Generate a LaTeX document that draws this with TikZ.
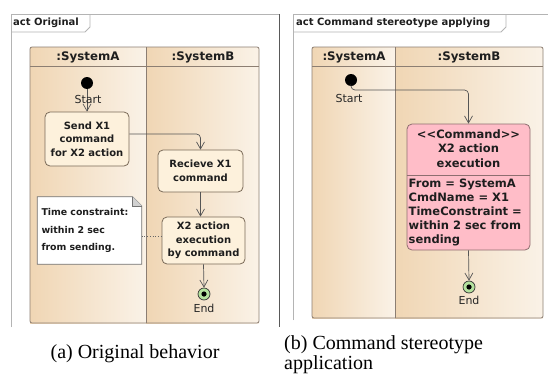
\documentclass[tikz,border=0pt]{standalone}
\usepackage{fontspec}
\newfontfamily\uml{DejaVu Sans}
\newfontfamily\capfont{Liberation Serif}
\usetikzlibrary{arrows.meta,calc}
\definecolor{laneL}{HTML}{F0D6B4}
\definecolor{laneR}{HTML}{FAF2E7}
\definecolor{laneBorder}{HTML}{8C7E72}
\definecolor{actFill}{HTML}{FDF1DC}
\definecolor{actBorder}{HTML}{7A6A58}
\definecolor{cmdFill}{HTML}{FFBDC8}
\definecolor{cmdBorder}{HTML}{8E6E70}
\definecolor{endFill}{HTML}{B4E29E}
\definecolor{arrowCol}{HTML}{555555}
\definecolor{frameCol}{HTML}{B4B4B4}
\definecolor{txt}{HTML}{1E1E1E}
\tikzset{
  lanebox/.style={draw=laneBorder, line width=0.8pt},
  hdr/.style={font=\uml\bfseries\fontsize{11.8}{13}\selectfont, text=txt, inner sep=0},
  tabtxt/.style={font=\uml\bfseries\fontsize{10}{12}\selectfont, text=txt, inner sep=0, anchor=west},
  action/.style={draw=actBorder, fill=actFill, rounded corners=5pt, line width=0.8pt, align=center,
     font=\uml\bfseries\fontsize{10}{13.5}\selectfont, text=txt, inner sep=1pt},
  initnode/.style={circle, fill=black, minimum size=12pt, inner sep=0},
  endnode/.style={circle, draw=black!80, fill=endFill, line width=0.7pt, minimum size=12pt, inner sep=0},
  lbl/.style={font=\uml\fontsize{11}{13}\selectfont, text=black!85, inner sep=0},
  flow/.style={draw=arrowCol, line width=0.7pt, -{Straight Barb[length=7pt,width=8pt]}},
  cmdbox/.style={draw=cmdBorder, fill=cmdFill, rounded corners=5pt, line width=0.8pt, inner sep=0},
  cmdtxt/.style={font=\uml\bfseries\fontsize{11.5}{14.5}\selectfont, text=txt, inner sep=0},
  capt/.style={font=\capfont\fontsize{20}{22}\selectfont, text=black, inner sep=0}
}
\begin{document}
\begin{tikzpicture}[x=1pt,y=-1pt]
\useasboundingbox (0,0) rectangle (548,380);
\fill[white] (0,0) rectangle (548,380);

% ---------- left frame ----------
\draw[frameCol, line width=0.8pt] (11,327) -- (11,14) -- (279,14);
\draw[black!65, line width=0.8pt] (279,14) -- (279,327);
\draw[frameCol, line width=0.8pt] (11,32) -- (85,32) -- (90,27) -- (90,14);
\node[tabtxt] (tab1) at (13,23) {act Original};

% lanes left
\shade[left color=laneL, right color=laneR] (30,47) rectangle (146,323);
\shade[left color=laneL, right color=laneR] (146,47) rectangle (259,323);
\draw[lanebox, rounded corners=2pt] (30,47) rectangle (259,323);
\draw[lanebox] (146,47) -- (146,323);
\draw[lanebox] (30,66) -- (259,66);
\node[hdr] (hA1) at (88,57) {:SystemA};
\node[hdr] (hB1) at (203,57) {:SystemB};

% nodes left
\node[initnode] (ini1) at (87,83) {};
\node[action, minimum width=84pt, minimum height=54pt] (send) at (87,139) {Send X1\\command\\for X2 action};
\node[action, minimum width=85pt, minimum height=42pt] (recv) at (200.5,171) {Recieve X1\\command};
\node[action, minimum width=83pt, minimum height=47pt] (x2) at (203.5,240.5) {X2 action\\execution\\by command};
\node[endnode] (end1) at (204,294) {};
\fill[black] (end1) circle (2.6pt);
\node[lbl] (end1l) at (204,308) {End};

\draw[flow] (ini1.south) -- (send.north);
\node[lbl] (st1) at (88,99) {Start};
\draw[flow, rounded corners=4pt] (send.east |- 0,134) -| (recv.north);
\draw[flow] (recv.south) -- (recv.south |- x2.north);
\draw[flow] (x2.south) -- (end1.north);

% note
\node[font=\uml\bfseries\fontsize{9.4}{17.5}\selectfont, text=txt, align=left,
      text width=96pt, inner xsep=4pt, inner ysep=0, minimum height=67pt] (note) at (89.5,230.5)
      {Time constraint:\\within 2 sec\\from sending.};
\draw[black!55, fill=white, line width=0.7pt]
  (note.north west) -- ($(note.north east)+(-9,0)$) -- ($(note.north east)+(0,9)$)
  -- (note.south east) -- (note.south west) -- cycle;
\fill[black!18] ($(note.north east)+(-9,0)$) -- ($(note.north east)+(-9,9)$) -- ($(note.north east)+(0,9)$) -- cycle;
\draw[black!55, line width=0.6pt] ($(note.north east)+(-9,0)$) -- ($(note.north east)+(-9,9)$) -- ($(note.north east)+(0,9)$);
\node[font=\uml\bfseries\fontsize{9.4}{17.5}\selectfont, text=txt, align=left,
      text width=96pt, inner xsep=4pt, inner ysep=0, minimum height=67pt] (notetxt) at (note)
      {Time constraint:\\within 2 sec\\from sending.};
\draw[black!60, line width=0.7pt, dotted] (note.east |- 0,236) -- (x2.west |- 0,236);

% ---------- right frame ----------
\draw[frameCol, line width=0.8pt] (293,320) -- (293,14) -- (548,14);
\draw[frameCol, line width=0.8pt] (293,32) -- (501,32) -- (506,27) -- (506,14);
\node[tabtxt] (tab2) at (296,23) {act Command stereotype applying};

\shade[left color=laneL, right color=laneR] (312,47) rectangle (395,318);
\shade[left color=laneL, right color=laneR] (395,47) rectangle (543,318);
\draw[lanebox, rounded corners=2pt] (312,47) rectangle (543,318);
\draw[lanebox] (395,47) -- (395,318);
\draw[lanebox] (312,66) -- (543,66);
\node[hdr] (hA2) at (354,57) {:SystemA};
\node[hdr] (hB2) at (469,57) {:SystemB};

\node[initnode] (ini2) at (351,80) {};
\node[lbl] (st2) at (349,98) {Start};
\node[cmdbox, minimum width=123pt, minimum height=126pt] (cmd) at (468.5,187) {};
\draw[cmdBorder, line width=0.8pt] (cmd.west |- 0,175) -- (cmd.east |- 0,175);
\node[cmdtxt, align=center] (cmdtitle) at (468.5,148.5) {<<Command>>\\X2 action\\execution};
\node[cmdtxt, align=left, anchor=north west, font=\uml\bfseries\fontsize{11.5}{14}\selectfont] (cmdattr) at (408.5,178.5)
  {From = SystemA\\CmdName = X1\\TimeConstraint =\\within 2 sec from\\sending};
\node[endnode] (end2) at (469,287) {};
\fill[black] (end2) circle (2.6pt);
\node[lbl] (end2l) at (469,300) {End};

\draw[flow, rounded corners=4pt] (ini2.south) |- (cmd.north |- 0,90) -- (cmd.north);
\draw[flow] (cmd.south) -- (end2.north);

% ---------- captions ----------
\node[capt, anchor=base] (capa) at (135,358) {(a) Original behavior};
\node[capt, anchor=base west] (capb1) at (284,349) {(b) Command stereotype};
\node[capt, anchor=base west] (capb2) at (284,369) {application};
\end{tikzpicture}
\end{document}
